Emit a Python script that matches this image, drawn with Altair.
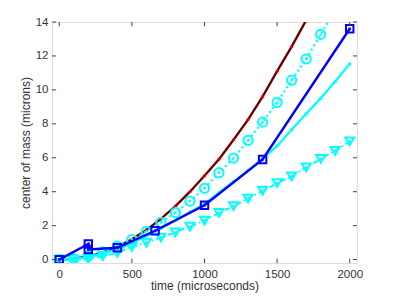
import altair as alt
import pandas as pd

# ---- data ----
t_full = [0, 100, 200, 300, 400, 500, 600, 700, 800, 900, 1000,
          1100, 1200, 1300, 1400, 1500, 1600, 1700, 1800, 1900, 2000]

red_t = [0, 100, 200, 300, 400, 500, 600, 700, 800, 900, 1000,
         1100, 1200, 1300, 1400, 1500, 1600, 1700, 1800]
red_y = [0.0, 0.05, 0.2, 0.42, 0.75, 1.2, 1.75, 2.4, 3.15, 4.0, 4.94,
         5.92, 7.06, 8.25, 9.6, 11.1, 12.55, 14.1, 15.7]

circ_y = [0.0, 0.05, 0.2, 0.45, 0.8, 1.18, 1.67, 2.19, 2.77, 3.45, 4.2,
          5.12, 5.98, 7.02, 8.1, 9.26, 10.57, 11.82, 13.27, 14.7, 16.2]

cyan_y = [0.0, 0.05, 0.15, 0.35, 0.6, 0.95, 1.4, 1.85, 2.3, 2.8, 3.3,
          3.95, 4.6, 5.25, 5.95, 6.7, 7.65, 8.59, 9.51, 10.49, 11.53]

tri_y = [0.0, 0.0, 0.05, 0.2, 0.4, 0.75, 1.0, 1.3, 1.6, 1.95, 2.3,
         2.75, 3.15, 3.6, 4.06, 4.5, 4.9, 5.43, 5.94, 6.41, 6.96]

blue_t = [0, 200, 200, 400, 660, 1000, 1400, 2000]
blue_y = [0.0, 0.92, 0.6, 0.7, 1.7, 3.2, 5.9, 13.6]

x_ticks = [0, 500, 1000, 1500, 2000]
y_ticks = [0, 2, 4, 6, 8, 10, 12, 14]

XDOM = [-50, 2050]
YDOM = [-0.2, 14]

# ---- frames ----
red_df = pd.DataFrame({"t": red_t, "y": red_y})
circ_df = pd.DataFrame({"t": t_full, "y": circ_y})
cyan_df = pd.DataFrame({"t": t_full, "y": cyan_y})
tri_df = pd.DataFrame({"t": t_full, "y": tri_y})
blue_df = pd.DataFrame({"t": blue_t, "y": blue_y, "o": list(range(len(blue_t)))})

FONT = "Liberation Sans"
xs = alt.Scale(domain=XDOM, nice=False, zero=False)
ys = alt.Scale(domain=YDOM, nice=False, zero=False)

XAX = alt.Axis(values=x_ticks, title="time (microseconds)", ticks=False, format="d",
               domain=False, grid=False, labelPadding=5, titlePadding=1,
               labelFontSize=11.5, titleFontSize=12, labelColor="#333",
               titleColor="#333", labelFont=FONT, titleFont=FONT,
               titleFontWeight="normal")
YAX = alt.Axis(values=y_ticks, title="center of mass (microns)", ticks=False, format="d",
               domain=False, grid=False, labelPadding=4, titlePadding=3,
               labelFontSize=11.5, titleFontSize=12, labelColor="#333",
               titleColor="#333", labelFont=FONT, titleFont=FONT,
               titleFontWeight="normal")


def X(f="t"):
    return alt.X(f + ":Q", scale=xs, axis=XAX, title="time (microseconds)")


def Y(f="y"):
    return alt.Y(f + ":Q", scale=ys, axis=YAX, title="center of mass (microns)")


CYAN = "#00FFFF"
BLUE = "#0000FF"
DRED = "#A00000"

layers = []

# red curve (dark red with thin black core, small red dots)
layers.append(alt.Chart(red_df).mark_line(color=DRED, strokeWidth=2.4, clip=True).encode(x=X(), y=Y()))
layers.append(alt.Chart(red_df).mark_line(color="black", strokeWidth=0.8, clip=True).encode(x=X(), y=Y()))
layers.append(alt.Chart(red_df).mark_point(filled=True, color="#E00000", size=10, opacity=1, clip=True).encode(x=X(), y=Y()))

# cyan dotted with circles
layers.append(alt.Chart(circ_df).mark_line(color=CYAN, strokeWidth=2.2, strokeDash=[2, 3], clip=True).encode(x=X(), y=Y()))
layers.append(alt.Chart(circ_df).mark_point(shape="circle", filled=False, color=CYAN, strokeWidth=2, size=85, opacity=1, clip=True).encode(x=X(), y=Y()))
layers.append(alt.Chart(circ_df).mark_point(shape="circle", filled=True, color=CYAN, size=6, opacity=1, clip=True).encode(x=X(), y=Y()))

# cyan solid with small dots
layers.append(alt.Chart(cyan_df).mark_line(color=CYAN, strokeWidth=2.2, clip=True).encode(x=X(), y=Y()))
layers.append(alt.Chart(cyan_df).mark_point(shape="circle", filled=True, color=CYAN, size=12, opacity=1, clip=True).encode(x=X(), y=Y()))

# cyan dash-dot with down triangles
layers.append(alt.Chart(tri_df).mark_line(color=CYAN, strokeWidth=2, strokeDash=[5, 3, 1.5, 3], clip=True).encode(x=X(), y=Y()))
layers.append(alt.Chart(tri_df).mark_point(shape="triangle-down", filled=False, color=CYAN, strokeWidth=2, size=80, opacity=1, clip=True).encode(x=X(), y=Y()))
layers.append(alt.Chart(tri_df).mark_point(shape="circle", filled=True, color=CYAN, size=6, opacity=1, clip=True).encode(x=X(), y=Y()))

# blue solid with squares
layers.append(alt.Chart(blue_df).mark_line(color=BLUE, strokeWidth=2.4, clip=True).encode(x=X(), y=Y(), order="o:Q"))
layers.append(alt.Chart(blue_df).mark_point(shape="square", filled=False, color=BLUE, strokeWidth=2, size=55, opacity=1, clip=True).encode(x=X(), y=Y()))
layers.append(alt.Chart(blue_df).mark_point(shape="square", filled=True, color=BLUE, size=6, opacity=1, clip=True).encode(x=X(), y=Y()))

# inward tick marks on all four sides
xt = pd.DataFrame({"t": x_ticks, "ylo": [YDOM[0]] * 5, "yhi": [YDOM[0] + 0.25] * 5,
                   "ytop": [YDOM[1]] * 5, "ytop2": [YDOM[1] - 0.25] * 5})
yt = pd.DataFrame({"y": y_ticks, "xl": [XDOM[0]] * 8, "xl2": [XDOM[0] + 28] * 8,
                   "xr": [XDOM[1]] * 8, "xr2": [XDOM[1] - 28] * 8})
TC = "#444444"
layers.append(alt.Chart(xt).mark_rule(color=TC, strokeWidth=1).encode(x=X("t"), y=Y("ylo"), y2="yhi:Q"))
layers.append(alt.Chart(xt).mark_rule(color=TC, strokeWidth=1).encode(x=X("t"), y=Y("ytop"), y2="ytop2:Q"))
layers.append(alt.Chart(yt).mark_rule(color=TC, strokeWidth=1).encode(y=Y("y"), x=X("xl"), x2="xl2:Q"))
layers.append(alt.Chart(yt).mark_rule(color=TC, strokeWidth=1).encode(y=Y("y"), x=X("xr"), x2="xr2:Q"))

chart = alt.layer(*layers).properties(
    width=305, height=241,
    autosize=alt.AutoSizeParams(type="none"),
    padding={"left": 44, "top": 14, "right": 22, "bottom": 32},
).configure_view(stroke=TC, strokeWidth=1).configure(background="white")

chart.save("out.html", embed_options={"renderer": "svg", "actions": False})
